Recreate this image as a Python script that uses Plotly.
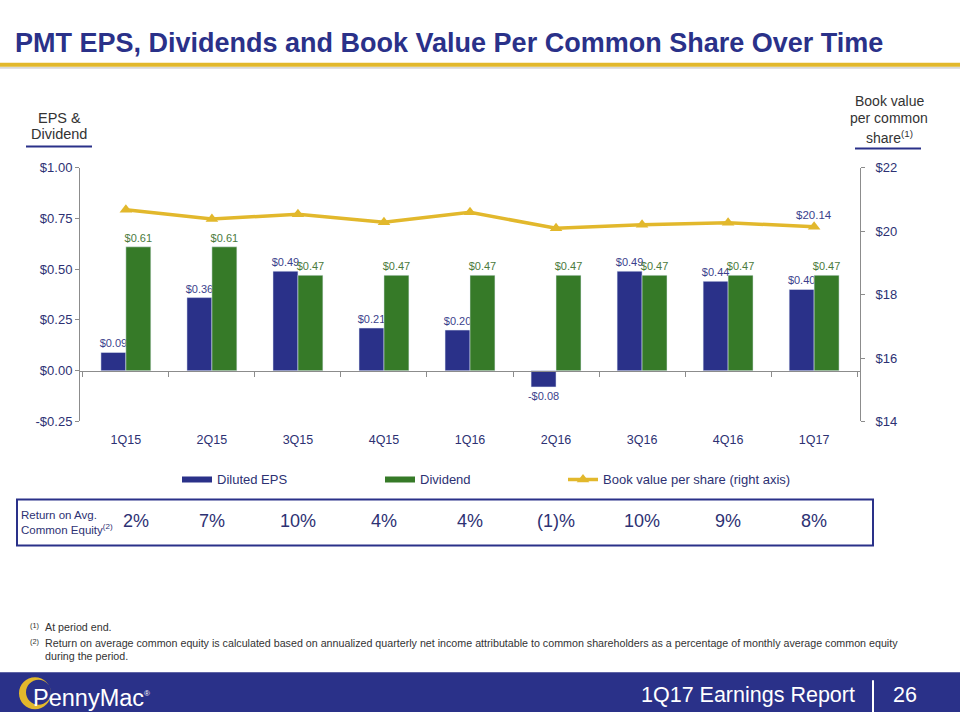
import plotly.graph_objects as go

quarters = ["1Q15", "2Q15", "3Q15", "4Q15", "1Q16", "2Q16", "3Q16", "4Q16", "1Q17"]
diluted_eps = [0.09, 0.36, 0.49, 0.21, 0.20, -0.08, 0.49, 0.44, 0.40]
dividend = [0.61, 0.61, 0.47, 0.47, 0.47, 0.47, 0.47, 0.47, 0.47]
book_value = [20.67, 20.38, 20.53, 20.28, 20.59, 20.09, 20.20, 20.26, 20.14]
roe = ["2%", "7%", "10%", "4%", "4%", "(1)%", "10%", "9%", "8%"]
left_ticks = [-0.25, 0.0, 0.25, 0.5, 0.75, 1.0]
left_ticktext = ["-$0.25", "$0.00", "$0.25", "$0.50", "$0.75", "$1.00"]
right_ticks = [14, 16, 18, 20, 22]
right_ticktext = ["$14", "$16", "$18", "$20", "$22"]

W, H = 960, 720
NAVY = "#2A3189"
GREEN = "#367A28"
GOLD = "#E2B82C"
TXT = "#2d3173"
GREY = "#333333"
FONT = "Liberation Sans, Arial, sans-serif"

# the photographed page maps figure y to about 0.98*y + 6.3; layout targets are
# given in picture pixels and converted back here
VS, VO = 0.9797, 6.3


def px(x):
    return x / W


def py(y):
    return 1 - ((y - VO) / VS) / H


ydom = [py(421), py(167)]
yr = [-0.25, 1.0]
zero_pos = ydom[0] + (0 - yr[0]) / (yr[1] - yr[0]) * (ydom[1] - ydom[0])

fig = go.Figure()
fig.add_trace(go.Bar(
    x=quarters, y=diluted_eps, name="Diluted EPS", marker_color=NAVY,
    text=[("-$%.2f" % abs(v)) if v < 0 else ("$%.2f" % v) for v in diluted_eps],
    textposition="outside", textfont=dict(size=11, color="#3b3f8c", family=FONT),
    constraintext="none", cliponaxis=False, showlegend=False, legendgroup="eps"))
fig.add_trace(go.Bar(
    x=quarters, y=dividend, name="Dividend", marker_color=GREEN,
    text=["$%.2f" % v for v in dividend],
    textposition="outside", textfont=dict(size=11, color="#4b7a3c", family=FONT),
    constraintext="none", cliponaxis=False, showlegend=False, legendgroup="div"))
fig.add_trace(go.Scatter(
    x=quarters, y=book_value, name="Book value per share (right axis)", yaxis="y2",
    mode="lines+markers",
    line=dict(color=GOLD, width=3.5), marker=dict(symbol="triangle-up", size=11, color=GOLD),
    cliponaxis=False, legend="legend3"))
fig.add_trace(go.Scatter(x=[None], y=[None], mode="lines", name="Diluted EPS",
                         line=dict(color=NAVY, width=6), legend="legend", legendgroup="eps"))
fig.add_trace(go.Scatter(x=[None], y=[None], mode="lines", name="Dividend",
                         line=dict(color=GREEN, width=6), legend="legend2", legendgroup="div"))

leg_common = dict(orientation="h", yanchor="middle", y=py(479), xanchor="left",
                  font=dict(size=13, color=TXT, family=FONT), bgcolor="rgba(0,0,0,0)",
                  itemwidth=30, tracegroupgap=0)


def circle_path(cx, cy, r, reverse=False):
    k = 0.5523 * r
    if not reverse:
        pts = [(cx + r, cy),
               (cx + r, cy + k, cx + k, cy + r, cx, cy + r),
               (cx - k, cy + r, cx - r, cy + k, cx - r, cy),
               (cx - r, cy - k, cx - k, cy - r, cx, cy - r),
               (cx + k, cy - r, cx + r, cy - k, cx + r, cy)]
    else:
        pts = [(cx + r, cy),
               (cx + r, cy - k, cx + k, cy - r, cx, cy - r),
               (cx - k, cy - r, cx - r, cy - k, cx - r, cy),
               (cx - r, cy + k, cx - k, cy + r, cx, cy + r),
               (cx + k, cy + r, cx + r, cy + k, cx + r, cy)]
    s = "M %f,%f" % (px(pts[0][0]), py(pts[0][1]))
    for c in pts[1:]:
        s += " C %f,%f %f,%f %f,%f" % (px(c[0]), py(c[1]), px(c[2]), py(c[3]), px(c[4]), py(c[5]))
    return s + " Z"


shapes = [
    dict(type="rect", xref="paper", yref="paper", x0=0, x1=1, y0=py(68), y1=py(66),
         fillcolor="#d9d9d9", line_width=0, layer="below"),
    dict(type="rect", xref="paper", yref="paper", x0=0, x1=1, y0=py(66), y1=py(62),
         fillcolor=GOLD, line_width=0),
    dict(type="line", xref="paper", yref="paper", x0=px(26), x1=px(92), y0=py(146), y1=py(146),
         line=dict(color=NAVY, width=2)),
    dict(type="line", xref="paper", yref="paper", x0=px(855), x1=px(921), y0=py(148), y1=py(148),
         line=dict(color=NAVY, width=2)),
    dict(type="rect", xref="paper", yref="paper", x0=px(17), x1=px(873), y0=py(545), y1=py(499),
         line=dict(color=NAVY, width=2)),
    dict(type="rect", xref="paper", yref="paper", x0=0, x1=1, y0=0, y1=py(672),
         fillcolor=NAVY, line_width=0),
    dict(type="line", xref="paper", yref="paper", x0=px(873), x1=px(873), y0=py(680), y1=py(712),
         line=dict(color="white", width=2)),
    dict(type="path", xref="paper", yref="paper",
         path=circle_path(35, 693, 16) + " " + circle_path(38.5, 692, 12.5, reverse=True),
         fillcolor=GOLD, line_width=0),
]


def note(text, x, y, size, color=GREY, anchor="left", **kw):
    return dict(text=text, x=px(x), y=py(y), xref="paper", yref="paper", xanchor=anchor,
                yanchor="middle", showarrow=False, font=dict(size=size, color=color, family=FONT), **kw)


annotations = [
    note("<b>PMT EPS, Dividends and Book Value Per Common Share Over Time</b>", 13, 42, 27, NAVY),
    note("EPS &amp;", 59, 117, 14.5, GREY, "center"),
    note("Dividend", 59, 133, 14.5, GREY, "center"),
    note("Book value", 889, 100, 14, GREY, "center"),
    note("per common", 889, 117, 14, GREY, "center"),
    note("share<sup>(1)</sup>", 889, 136, 14, GREY, "center"),
    note("Return on Avg.", 19, 515, 11.5, TXT),
    note("Common Equity<sup>(2)</sup>", 19, 529, 11.5, TXT),
    note("<sup>(1)</sup>", 28, 625, 10.5),
    note("At period end.", 43, 627, 10.7),
    note("<sup>(2)</sup>", 28, 641, 10.5),
    note("Return on average common equity is calculated based on annualized quarterly net income "
         "attributable to common shareholders as a percentage of monthly average common equity",
         43, 643, 10.7),
    note("during the period.", 43, 655.5, 10.7),
    note("1Q17 Earnings Report", 857, 695, 21.5, "white", "right"),
    note("26", 905, 695, 21.5, "white", "center"),
    note("PennyMac<sup><span style='font-size:8px'>®</span></sup>", 31, 698, 23.5, "white"),
    dict(text="$%.2f" % book_value[-1], x=quarters[-1], y=book_value[-1], xref="x", yref="y2",
         yshift=12, showarrow=False, xanchor="center", yanchor="middle",
         font=dict(size=11.5, color="#3b3f8c", family=FONT)),
]
for i, (q, r) in enumerate(zip(quarters, roe)):
    annotations.append(dict(text=r, x=q, xref="x", y=py(521), yref="paper",
                            xshift=10 if i == 0 else 0, showarrow=False,
                            xanchor="center", yanchor="middle",
                            font=dict(size=18, color=TXT, family=FONT)))

fig.update_layout(
    width=W, height=H, margin=dict(l=0, r=0, t=0, b=0),
    paper_bgcolor="white", plot_bgcolor="white",
    barmode="group", bargap=0.42, bargroupgap=0,
    font=dict(family=FONT, color=TXT),
    xaxis=dict(domain=[px(80), px(860)], type="category", anchor="free", position=zero_pos,
               showline=True, linecolor="#8c8c8c", linewidth=1, ticks="outside",
               tickson="boundaries", ticklen=5, tickcolor="#8c8c8c", showgrid=False,
               tickfont=dict(size=12.5, color=TXT, family=FONT), ticklabelstandoff=57),
    yaxis=dict(domain=ydom, range=yr, tickvals=left_ticks, ticktext=left_ticktext,
               showline=True, linecolor="#8c8c8c", ticks="outside", ticklen=4,
               tickcolor="#8c8c8c", showgrid=False, zeroline=False,
               tickfont=dict(size=13, color=TXT, family=FONT)),
    yaxis2=dict(overlaying="y", side="right", anchor="x", range=[14, 22],
                tickvals=right_ticks, ticktext=right_ticktext,
                showline=True, linecolor="#8c8c8c", ticks="outside", ticklen=4,
                tickcolor="#8c8c8c", showgrid=False, zeroline=False,
                tickfont=dict(size=13, color=TXT, family=FONT), ticklabelstandoff=8),
    legend=dict(**leg_common, x=px(177)),
    legend2=dict(**leg_common, x=px(380)),
    legend3=dict(**leg_common, x=px(563)),
    shapes=shapes, annotations=annotations,
)

post = ("document.documentElement.style.cssText='margin:0;padding:0;overflow:hidden;"
        "background:linear-gradient(#ffffff 0%,#ffffff 50%," + NAVY + " 50%," + NAVY + " 100%);';"
        "document.body.style.cssText='margin:0;padding:0;overflow:hidden;background:transparent;';")
fig.write_html("out.html", config={"displayModeBar": False}, post_script=post)
